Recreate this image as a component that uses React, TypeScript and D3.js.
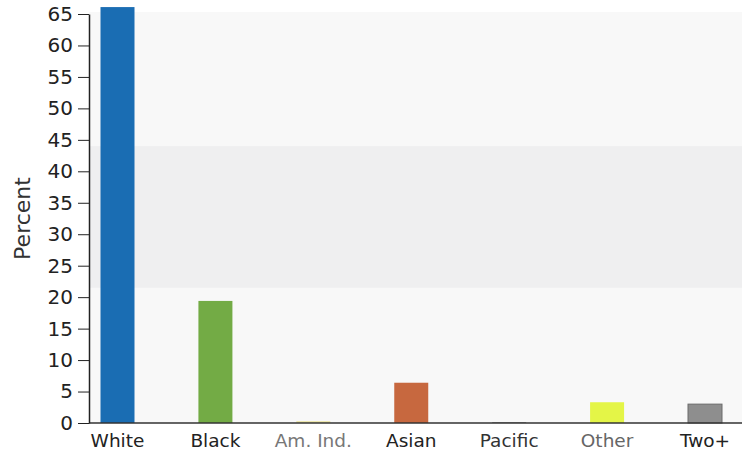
import { useRef, useEffect } from 'react';
import * as d3 from 'd3';

const categories = ['White', 'Black', 'Am. Ind.', 'Asian', 'Pacific', 'Other', 'Two+'];
const percents = [66.1, 19.4, 0.3, 6.4, 0.1, 3.3, 3.0];
const barColors = ['#1a6db3', '#73ab45', '#ece6a6', '#c7683f', '#666666', '#e4f547', '#8e8e8e'];
const labelColors = ['#222', '#222', '#777', '#222', '#333', '#666', '#222'];
const yTicks = [0, 5, 10, 15, 20, 25, 30, 35, 40, 45, 50, 55, 60, 65];
const shadedBand = [21.5, 44];

const W = 747;
const H = 454;

const RaceChart = () => {
    const svgRef = useRef<SVGSVGElement | null>(null);

    useEffect(() => {
        const svgElement = svgRef.current;
        if (!svgElement) return;

        const margin = { top: 12, right: 5, bottom: 31, left: 89 };
        const font = '"DejaVu Sans", Verdana, sans-serif';

        const svg = d3.select(svgElement);
        svg.selectAll('*').remove();

        const x = d3.scalePoint<string>()
            .domain(categories)
            .range([117.5, 705]);

        const y = d3.scaleLinear()
            .domain([0, 65])
            .range([H - margin.bottom, 14]);

        const barWidth = 34;

        // plot background
        svg.append('rect')
            .attr('x', margin.left)
            .attr('y', margin.top)
            .attr('width', W - margin.right - margin.left)
            .attr('height', H - margin.bottom - margin.top)
            .attr('fill', '#f8f8f8');

        // grey band
        svg.append('rect')
            .attr('x', margin.left)
            .attr('y', y(shadedBand[1]))
            .attr('width', W - margin.right - margin.left)
            .attr('height', y(shadedBand[0]) - y(shadedBand[1]))
            .attr('fill', '#efeff0');

        svg.selectAll('rect.bar')
            .data(percents)
            .enter()
            .append('rect')
            .attr('class', 'bar')
            .attr('x', (_, i) => (x(categories[i]) as number) - barWidth / 2)
            .attr('y', d => y(d))
            .attr('width', barWidth)
            .attr('height', d => y(0) - y(d))
            .attr('fill', (_, i) => barColors[i])
            .attr('stroke', (_, i) => i === 6 ? '#6a6a6a' : 'none')
            .attr('stroke-width', 1);

        // x axis baseline
        svg.append('line')
            .attr('x1', margin.left)
            .attr('x2', W - margin.right)
            .attr('y1', y(0))
            .attr('y2', y(0))
            .attr('stroke', '#333')
            .attr('stroke-width', 1.5);

        svg.selectAll('text.xlabel')
            .data(categories)
            .enter()
            .append('text')
            .attr('class', 'xlabel')
            .attr('x', d => x(d) as number)
            .attr('y', y(0) + 24)
            .attr('text-anchor', 'middle')
            .style('font-family', font)
            .style('font-size', '18.5px')
            .style('fill', (_, i) => labelColors[i])
            .text(d => d);

        const yAxis = svg.append('g')
            .attr('transform', `translate(${margin.left}, 0)`)
            .call(d3.axisLeft(y)
                .tickValues(yTicks)
                .tickSize(11)
                .tickPadding(5)
                .tickSizeOuter(0)
            );

        yAxis.select('.domain')
            .attr('stroke', '#222')
            .attr('stroke-width', 1.5);

        yAxis.selectAll('.tick line')
            .attr('stroke', '#222')
            .attr('stroke-width', 1);

        yAxis.selectAll('.tick text')
            .attr('fill', '#222')
            .style('font-family', font)
            .style('font-size', '20px');

        svg.append('text')
            .attr('transform', `translate(30, ${(y(0) + y(65)) / 2}) rotate(-90)`)
            .attr('text-anchor', 'middle')
            .style('font-family', font)
            .style('font-size', '22px')
            .style('fill', '#333')
            .text('Percent');
    }, []);

    return (
        <div style={{ position: 'absolute', left: 0, top: 0, width: W, height: H, background: '#fff' }}>
            <svg ref={svgRef} width={W} height={H} style={{ display: 'block' }}></svg>
        </div>
    );
};

export default function App() {
    return <RaceChart />;
}
